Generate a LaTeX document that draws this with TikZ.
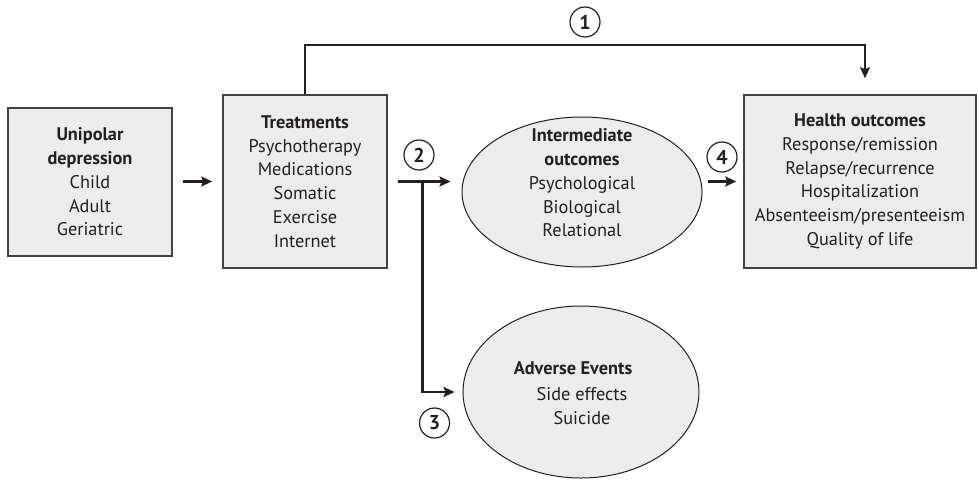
\documentclass[tikz,border=0pt]{standalone}
\usepackage{fontspec}
\setmainfont{PT Sans}
\usetikzlibrary{arrows.meta,shapes.geometric,calc}
\definecolor{ink}{HTML}{231F20}
\definecolor{boxfill}{HTML}{ECECEC}
\begin{document}
\begin{tikzpicture}[x=1pt,y=-1pt,
  every node/.style={text=ink},
  txt/.style={align=center, inner sep=0pt, font=\fontsize{18.3}{23.8}\selectfont},
  boxnode/.style={txt, draw=ink!85, line width=1.6pt, fill=boxfill},
  ovalnode/.style={ellipse, draw=ink, line width=1pt, fill=boxfill, inner sep=0pt},
  numnode/.style={circle, draw=ink, line width=1.2pt, minimum size=30pt, inner sep=0pt, font=\fontsize{20}{20}\selectfont\bfseries},
  arr/.style={draw=ink, line width=2.4pt, -{Stealth[length=11pt,width=10pt,inset=2pt]}}
]
\useasboundingbox (0,0) rectangle (979,479);
\fill[white] (0,0) rectangle (979,479);

\node[boxnode, minimum width=164pt, minimum height=148pt] (dep) at (90,182)
  {\textbf{Unipolar}\\ \textbf{depression}\\ Child\\ Adult\\ Geriatric};
\node[boxnode, minimum width=164pt, minimum height=173pt] (treat) at (305,181.5)
  {\textbf{Treatments}\\ Psychotherapy\\ Medications\\ Somatic\\ Exercise\\ Internet};
\node[boxnode, minimum width=232pt, minimum height=173pt] (health) at (860,181.5)
  {\textbf{Health outcomes}\\ Response/remission\\ Relapse/recurrence\\ Hospitalization\\ Absenteeism/presenteeism\\ Quality of life};

\node[ovalnode, minimum width=240pt, minimum height=150pt] (inter) at (582,192) {};
\node[txt] (intertext) at (582,183)
  {\textbf{Intermediate}\\ \textbf{outcomes}\\ Psychological\\ Biological\\ Relational};

\node[ovalnode, minimum width=236pt, minimum height=172pt] (adv) at (581,392) {};
\node[txt] (advtitle) at (573,368) {\textbf{Adverse Events}};
\node[txt] (advtext) at (582,406) {Side effects\\ Suicide};

\node[numnode] (c1) at (585,22) {1};
\node[numnode] (c2) at (419,155) {2};
\node[numnode] (c3) at (434.5,423) {3};
\node[numnode] (c4) at (722,157) {4};

\draw[arr, shorten <=10pt, shorten >=10pt] (dep.east |- treat.west) -- (treat.west);
\draw[arr, shorten <=10pt] (treat.east) -- ([xshift=-11pt]treat.east -| inter.west);
\draw[arr] ([xshift=34.5pt]treat.east) |- ([xshift=-8pt]adv.west);
\draw[arr] ([xshift=5pt]inter.east |- health.west) -- ([xshift=-7pt]health.west);
\draw[arr] (treat.north) -- ++(0,-49) -| ([xshift=5pt,yshift=16pt]health.north);
\end{tikzpicture}
\end{document}
